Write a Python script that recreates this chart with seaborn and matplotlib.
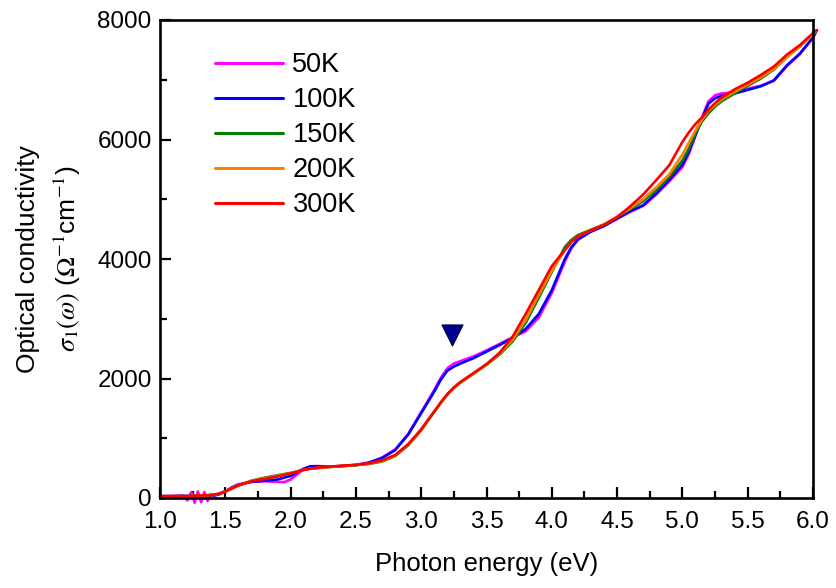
import numpy as np
import pandas as pd
import matplotlib
matplotlib.use("Agg")
import matplotlib.pyplot as plt
import seaborn as sns
from matplotlib.ticker import MultipleLocator

# ---- data ----
temps = ["50K", "100K", "150K", "200K", "300K"]
colors = ["#FF00FF", "#0000FF", "#008000", "#FF8000", "#FF0000"]

energy = [1.00, 1.10, 1.20, 1.30, 1.40, 1.45, 1.50, 1.55, 1.60, 1.70, 1.80, 1.90,
          2.00, 2.10, 2.15, 2.20, 2.30, 2.40, 2.50, 2.60, 2.70, 2.80, 2.90, 3.00,
          3.05, 3.10, 3.15, 3.20, 3.25, 3.30, 3.40, 3.50, 3.60, 3.70, 3.80, 3.90,
          4.00, 4.10, 4.15, 4.20, 4.30, 4.40, 4.50, 4.60, 4.70, 4.80, 4.90, 5.00,
          5.05, 5.10, 5.15, 5.20, 5.25, 5.30, 5.40, 5.50, 5.60, 5.70, 5.80, 5.90,
          6.00, 6.03]

energy_50K = [1.00, 1.10, 1.18, 1.21, 1.24, 1.265, 1.29, 1.315, 1.34, 1.365, 1.39, 1.42,
              1.45, 1.50, 1.55, 1.60, 1.70, 1.80, 1.90, 1.95, 2.00, 2.10, 2.15, 2.20,
              2.30, 2.40, 2.50, 2.60, 2.70, 2.80, 2.90, 3.00, 3.05, 3.10, 3.15, 3.20,
              3.25, 3.30, 3.40, 3.50, 3.60, 3.70, 3.80, 3.90, 4.00, 4.10, 4.15, 4.20,
              4.30, 4.40, 4.50, 4.60, 4.70, 4.80, 4.90, 5.00, 5.05, 5.10, 5.15, 5.20,
              5.25, 5.30, 5.40, 5.50, 5.60, 5.70, 5.80, 5.90, 6.00, 6.03]

sigma_50K = [30, 35, 40, -40, 100, -80, 110, -70, 100, -50, 60, 40,
             60, 110, 180, 230, 270, 280, 270, 265, 310, 480, 530, 535,
             525, 540, 555, 595, 675, 810, 1070, 1440, 1620, 1810, 2010, 2170,
             2250, 2290, 2370, 2470, 2580, 2690, 2790, 3020, 3430, 3960, 4180, 4320,
             4460, 4560, 4670, 4790, 4890, 5080, 5300, 5540, 5760, 6060, 6370, 6640,
             6740, 6770, 6790, 6850, 6900, 6980, 7230, 7430, 7700, 7830]

sigma_100K = [30, 30, 35, 30, 40, 60, 110, 170, 220, 270, 290, 310,
              370, 490, 530, 530, 520, 535, 550, 590, 670, 800, 1060, 1420,
              1600, 1780, 1980, 2130, 2200, 2250, 2340, 2450, 2560, 2680, 2830, 3080,
              3480, 4000, 4200, 4330, 4460, 4550, 4680, 4800, 4900, 5100, 5330, 5580,
              5800, 6080, 6350, 6600, 6690, 6730, 6770, 6830, 6890, 6990, 7240, 7440,
              7710, 7830]

sigma_150K = [30, 30, 30, 40, 50, 70, 110, 160, 210, 290, 340, 380,
              420, 470, 490, 500, 520, 535, 550, 570, 610, 700, 880, 1130,
              1290, 1440, 1590, 1730, 1840, 1930, 2080, 2230, 2400, 2620, 2930, 3350,
              3780, 4200, 4320, 4400, 4490, 4580, 4700, 4830, 4970, 5150, 5370, 5650,
              5850, 6100, 6300, 6440, 6550, 6640, 6770, 6900, 7020, 7170, 7380, 7560,
              7770, 7830]

sigma_200K = [30, 30, 30, 40, 50, 70, 110, 160, 210, 285, 330, 370,
              415, 470, 490, 502, 522, 537, 552, 575, 620, 710, 890, 1140,
              1295, 1445, 1595, 1735, 1845, 1935, 2085, 2235, 2415, 2650, 2980, 3400,
              3800, 4150, 4290, 4380, 4480, 4575, 4710, 4850, 5000, 5200, 5420, 5750,
              5950, 6150, 6330, 6480, 6580, 6670, 6800, 6920, 7040, 7180, 7380, 7560,
              7760, 7830]

sigma_300K = [30, 30, 30, 40, 50, 70, 110, 160, 210, 280, 320, 360,
              410, 470, 490, 505, 525, 540, 555, 580, 630, 720, 900, 1150,
              1300, 1450, 1600, 1740, 1850, 1940, 2090, 2240, 2430, 2700, 3080, 3480,
              3880, 4150, 4290, 4380, 4480, 4570, 4700, 4880, 5080, 5320, 5570, 5960,
              6120, 6260, 6370, 6500, 6610, 6700, 6840, 6950, 7080, 7220, 7420, 7580,
              7780, 7830]

marker_energy = [3.235]
marker_sigma = [2730]

# ---- build long table ----
series = {
    "50K": (energy_50K, sigma_50K),
    "100K": (energy, sigma_100K),
    "150K": (energy, sigma_150K),
    "200K": (energy, sigma_200K),
    "300K": (energy, sigma_300K),
}
frames = []
for t in temps:
    e, s = series[t]
    frames.append(pd.DataFrame({"E": e, "sigma": s, "T": t}))
df = pd.concat(frames, ignore_index=True)

# ---- style ----
sns.set_style("ticks")
plt.rcParams["font.family"] = ["Liberation Sans", "DejaVu Sans"]
plt.rcParams["mathtext.fontset"] = "stix"
plt.rcParams["xtick.direction"] = "in"
plt.rcParams["ytick.direction"] = "in"
plt.rcParams["text.color"] = "black"
plt.rcParams["axes.labelcolor"] = "black"
plt.rcParams["xtick.color"] = "black"
plt.rcParams["ytick.color"] = "black"
plt.rcParams["axes.edgecolor"] = "black"

fig = plt.figure(figsize=(8.36, 5.88), dpi=100)
ax = fig.add_axes([160 / 836, 1 - 498 / 588, (813 - 160) / 836, (498 - 20) / 588])

sns.lineplot(data=df, x="E", y="sigma", hue="T", hue_order=temps,
             palette=dict(zip(temps, colors)), linewidth=1.9, sort=False,
             estimator=None, ax=ax, clip_on=False)

sns.scatterplot(x=marker_energy, y=marker_sigma, marker="v", s=230,
                color="#000090", edgecolor="#000040", linewidth=0.8, ax=ax,
                legend=False, zorder=5)

ax.set_xlim(1.0, 6.0)
ax.set_ylim(0, 8000)
ax.xaxis.set_major_locator(MultipleLocator(0.5))
ax.xaxis.set_minor_locator(MultipleLocator(0.25))
ax.yaxis.set_major_locator(MultipleLocator(2000))
ax.yaxis.set_minor_locator(MultipleLocator(1000))
ax.xaxis.set_major_formatter(matplotlib.ticker.FormatStrFormatter("%.1f"))
ax.tick_params(axis="both", which="major", length=8, width=1.6, labelsize=17.5,
               colors="black")
ax.tick_params(axis="x", which="major", pad=9)
ax.tick_params(axis="y", which="major", pad=6)
ax.tick_params(axis="both", which="minor", length=5, width=1.6)
for sp in ax.spines.values():
    sp.set_linewidth(1.9)
    sp.set_visible(True)
    sp.set_color("black")

ax.set_xlabel("Photon energy (eV)", fontsize=18.5, labelpad=14)
ax.set_ylabel("Optical conductivity\n$\\sigma_1(\\omega)$ ($\\Omega^{-1}$cm$^{-1}$)",
              fontsize=19, labelpad=10, linespacing=1.5)

leg = ax.legend(loc="upper left", bbox_to_anchor=(0.068, 0.955), frameon=False,
                fontsize=19.5, handlelength=2.5, handletextpad=0.35,
                labelspacing=0.33, borderaxespad=0)
for line in leg.get_lines():
    line.set_linewidth(2.2)

fig.savefig("out.png", dpi=100)
